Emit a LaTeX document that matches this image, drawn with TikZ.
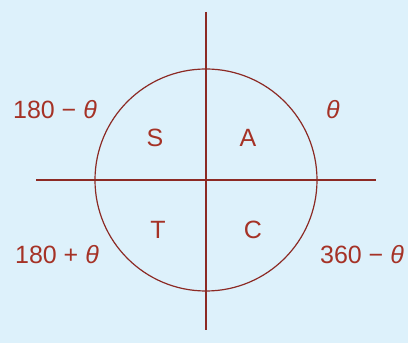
\documentclass[tikz,border=0pt]{standalone}
\usepackage{fontspec}
\setmainfont{Liberation Sans}
\definecolor{bgc}{RGB}{221,241,251}
\definecolor{linec}{RGB}{140,42,36}
\definecolor{textc}{RGB}{165,50,38}
\begin{document}
\begin{tikzpicture}[x=1pt,y=1pt,
  lbl/.style={text=textc,font=\fontsize{25}{30}\selectfont,inner sep=0pt},
  axis/.style={draw=linec,line width=1.6pt},
  circ/.style={draw=linec,line width=1.2pt}]
\fill[bgc] (0,0) rectangle (408,343);
\useasboundingbox (0,0) rectangle (408,343);
\coordinate (o) at (206,163);
\coordinate (top) at (206,331);
\coordinate (bot) at (206,13);
\coordinate (left) at (36,163);
\coordinate (right) at (376,163);
\draw[circ] (o) circle[radius=111];
\draw[axis] (top) -- (bot);
\draw[axis] (left) -- (right);
\node[lbl] (q2) at (55,233) {180 − \textit{θ}};
\node[lbl] (q1) at (333,233) {\textit{θ}};
\node[lbl] (q3) at (57,88) {180 + \textit{θ}};
\node[lbl] (q4) at (362,88) {360 − \textit{θ}};
\node[lbl] (s) at (155,205) {S};
\node[lbl] (a) at (248,205) {A};
\node[lbl] (t) at (158,113) {T};
\node[lbl] (c) at (253,113) {C};
\end{tikzpicture}
\end{document}
